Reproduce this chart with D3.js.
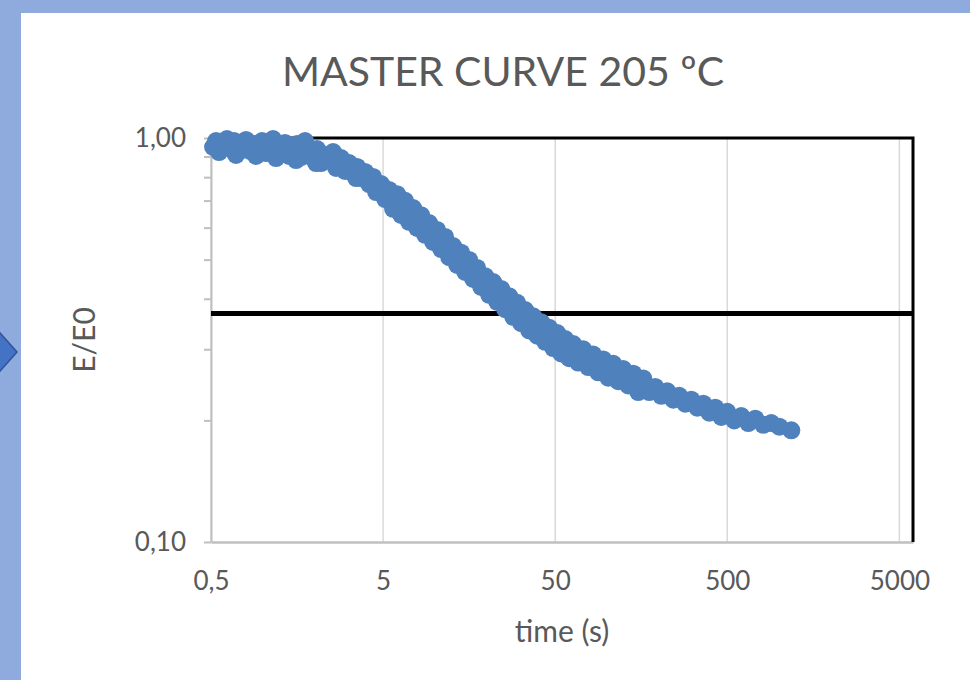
<!DOCTYPE html>
<html lang="es">
<head>
<meta charset="UTF-8">
<title>Master curve 205 ºC</title>
<style>
    html, body { margin: 0; padding: 0; background: #8faadc; }
    svg { display: block; font-family: Lato, "Open Sans", sans-serif; }
</style>
</head>
<body>
<svg id="chart" width="970" height="680"></svg>
<script src="https://cdn.jsdelivr.net/npm/d3@7"></script>
<script>
    // relaxation data: time (s) and E/E0
    const times = [
        0.514, 0.535, 0.557, 0.587, 0.619, 0.654, 0.680, 0.718, 0.757, 0.799,
        0.843, 0.889, 0.938, 0.990, 1.044, 1.102, 1.147, 1.210, 1.276, 1.346,
        1.421, 1.499, 1.581, 1.668, 1.760, 1.857, 1.959, 2.067, 2.181, 2.301,
        2.427, 2.561, 2.702, 2.850, 3.007, 3.172, 3.347, 3.531, 3.725, 3.930,
        4.146, 4.374, 4.614, 4.868, 5.136, 5.418,
        5.716, 6.030, 6.362, 6.712, 7.081, 7.471, 7.882, 8.316, 8.773, 9.256,
        9.765, 10.30, 10.87, 11.47, 12.10, 12.76, 13.47, 14.21, 14.99, 15.81,
        16.68, 17.60, 18.57, 19.59, 20.67, 21.81, 23.01, 24.27, 25.61, 27.02,
        28.50, 30.07, 31.73, 33.47, 35.31, 37.26, 39.31, 41.47, 43.75, 46.16,
        48.70, 51.38, 54.20, 57.19, 60.33, 63.65,
        68.05, 72.76, 77.80, 83.18, 88.94, 95.10, 101.7, 108.7, 116.2, 124.3,
        132.9, 142.1, 151.9, 162.4,
        176.0, 190.7, 206.7, 224.0, 242.7, 263.0, 285.0, 308.8, 334.6, 362.6,
        392.9, 425.7, 461.3, 499.9,
        549.1, 603.0, 662.2, 727.3,
        809.5, 901.1, 1003, 1178,
        // second run in the early, noisier part
        0.699, 0.913, 1.194, 1.560, 2.039, 2.666, 3.484, 4.553
    ];
    const modulus = [
        0.950, 0.983, 0.923, 0.961, 0.994, 0.939, 0.983, 0.923, 0.955, 0.989,
        0.929, 0.966, 0.945, 0.983, 0.918, 0.961, 0.994, 0.908, 0.945, 0.972,
        0.903, 0.939, 0.966, 0.897, 0.983, 0.929, 0.892, 0.939, 0.867, 0.908,
        0.882, 0.923, 0.853, 0.892, 0.829, 0.867, 0.819, 0.848, 0.796, 0.824,
        0.769, 0.801, 0.744, 0.769, 0.706, 0.744,
        0.668, 0.726, 0.645, 0.699, 0.620, 0.671, 0.599, 0.644, 0.576, 0.616,
        0.553, 0.592, 0.531, 0.569, 0.507, 0.540, 0.485, 0.520, 0.466, 0.499,
        0.448, 0.477, 0.428, 0.455, 0.409, 0.440, 0.393, 0.423, 0.377, 0.406,
        0.361, 0.391, 0.348, 0.375, 0.334, 0.362, 0.324, 0.350, 0.313, 0.339,
        0.302, 0.329, 0.293, 0.318, 0.285, 0.309,
        0.278, 0.300, 0.271, 0.291, 0.263, 0.283, 0.255, 0.276, 0.250, 0.268,
        0.244, 0.261, 0.235, 0.254,
        0.235, 0.242, 0.230, 0.236, 0.225, 0.230, 0.220, 0.225, 0.215, 0.220,
        0.209, 0.215, 0.204, 0.210,
        0.200, 0.205, 0.197, 0.202,
        0.195, 0.197, 0.193, 0.189,
        0.908, 0.903, 0.892, 0.882, 0.867, 0.843, 0.796, 0.735
    ];

    const xDomain = [0.5, 6000];
    const yDomain = [0.1, 1];
    const xTicks = [0.5, 5, 50, 500, 5000];
    const xTickLabels = ["0,5", "5", "50", "500", "5000"];
    const yTicks = [0.1, 0.2, 0.3, 0.4, 0.5, 0.6, 0.7, 0.8, 0.9, 1];
    const yTickLabels = ["0,10", "", "", "", "", "", "", "", "", "1,00"];
    const refLevel = 0.368;   // 1/e

    const svg = d3.select("#chart"),
        width = +svg.attr("width"),
        height = +svg.attr("height"),
        margin = {top: 138, right: 57, bottom: 138, left: 211};

    const textColor = "#595959";

    // background: blue slide edge, white chart panel, arrow stub
    svg.append("rect").attr("width", width).attr("height", height).attr("fill", "#8faadc");
    svg.append("rect")
        .attr("x", 21).attr("y", 13)
        .attr("width", width - 21).attr("height", height - 13)
        .attr("fill", "#ffffff");
    svg.append("path")
        .attr("d", "M-6,326 L17,352 L-6,378 Z")
        .attr("fill", "#4472c4")
        .attr("stroke", "#2f5597")
        .attr("stroke-width", 1.5);

    const x = d3.scaleLog()
        .domain(xDomain)
        .range([margin.left, width - margin.right]);

    const y = d3.scaleLog()
        .domain(yDomain)
        .range([height - margin.bottom, margin.top]);

    // vertical gridlines
    svg.append("g")
        .selectAll("line")
        .data(xTicks)
        .enter().append("line")
        .attr("x1", d => x(d)).attr("x2", d => x(d))
        .attr("y1", y(yDomain[0])).attr("y2", y(yDomain[1]))
        .attr("stroke", "#d9d9d9")
        .attr("stroke-width", 1.5);

    // y axis
    const yAxis = svg.append("g")
        .attr("transform", "translate(" + margin.left + ",0)")
        .call(d3.axisLeft(y)
            .tickValues(yTicks)
            .tickFormat((d, i) => yTickLabels[i])
            .tickSize(7)
            .tickSizeOuter(0)
            .tickPadding(18));
    yAxis.select(".domain").attr("stroke", "#bfbfbf").attr("stroke-width", 2);
    yAxis.selectAll(".tick line").attr("stroke", "#bfbfbf").attr("stroke-width", 2);
    yAxis.selectAll("text")
        .attr("fill", textColor)
        .attr("font-size", "26px")
        .attr("font-family", "Lato, sans-serif");

    // x axis
    const xAxis = svg.append("g")
        .attr("transform", "translate(0," + y(yDomain[0]) + ")")
        .call(d3.axisBottom(x)
            .tickValues(xTicks)
            .tickFormat((d, i) => xTickLabels[i])
            .tickSize(0)
            .tickPadding(30));
    xAxis.select(".domain").attr("stroke", "#bfbfbf").attr("stroke-width", 2.5);
    xAxis.selectAll("text")
        .attr("fill", textColor)
        .attr("font-size", "26px")
        .attr("font-family", "Lato, sans-serif");

    // black frame on top and right
    svg.append("path")
        .attr("d", d3.line()([
            [x(xDomain[0]), y(yDomain[1])],
            [x(xDomain[1]), y(yDomain[1])],
            [x(xDomain[1]), y(yDomain[0])]
        ]))
        .attr("fill", "none")
        .attr("stroke", "#000000")
        .attr("stroke-width", 3);

    // 1/e reference line
    svg.append("line")
        .attr("x1", x(xDomain[0])).attr("x2", x(xDomain[1]))
        .attr("y1", y(refLevel)).attr("y2", y(refLevel))
        .attr("stroke", "#000000")
        .attr("stroke-width", 5);

    // data points
    const points = d3.zip(times, modulus);
    svg.append("g")
        .selectAll("circle")
        .data(points)
        .enter().append("circle")
        .attr("cx", d => x(d[0]))
        .attr("cy", d => y(d[1]))
        .attr("r", 9)
        .attr("fill", "#4f81bd");

    // titles
    svg.append("text")
        .attr("x", 503).attr("y", 86)
        .attr("text-anchor", "middle")
        .attr("fill", textColor)
        .attr("font-size", "41px")
        .text("MASTER CURVE 205 ºC");

    svg.append("text")
        .attr("x", (x(xDomain[0]) + x(xDomain[1])) / 2).attr("y", 642)
        .attr("text-anchor", "middle")
        .attr("fill", textColor)
        .attr("font-size", "30px")
        .text("time (s)");

    svg.append("text")
        .attr("transform", "translate(95," + (y(yDomain[0]) + y(yDomain[1])) / 2 + ") rotate(-90)")
        .attr("text-anchor", "middle")
        .attr("fill", textColor)
        .attr("font-size", "30px")
        .text("E/E0");
</script>
</body>
</html>
